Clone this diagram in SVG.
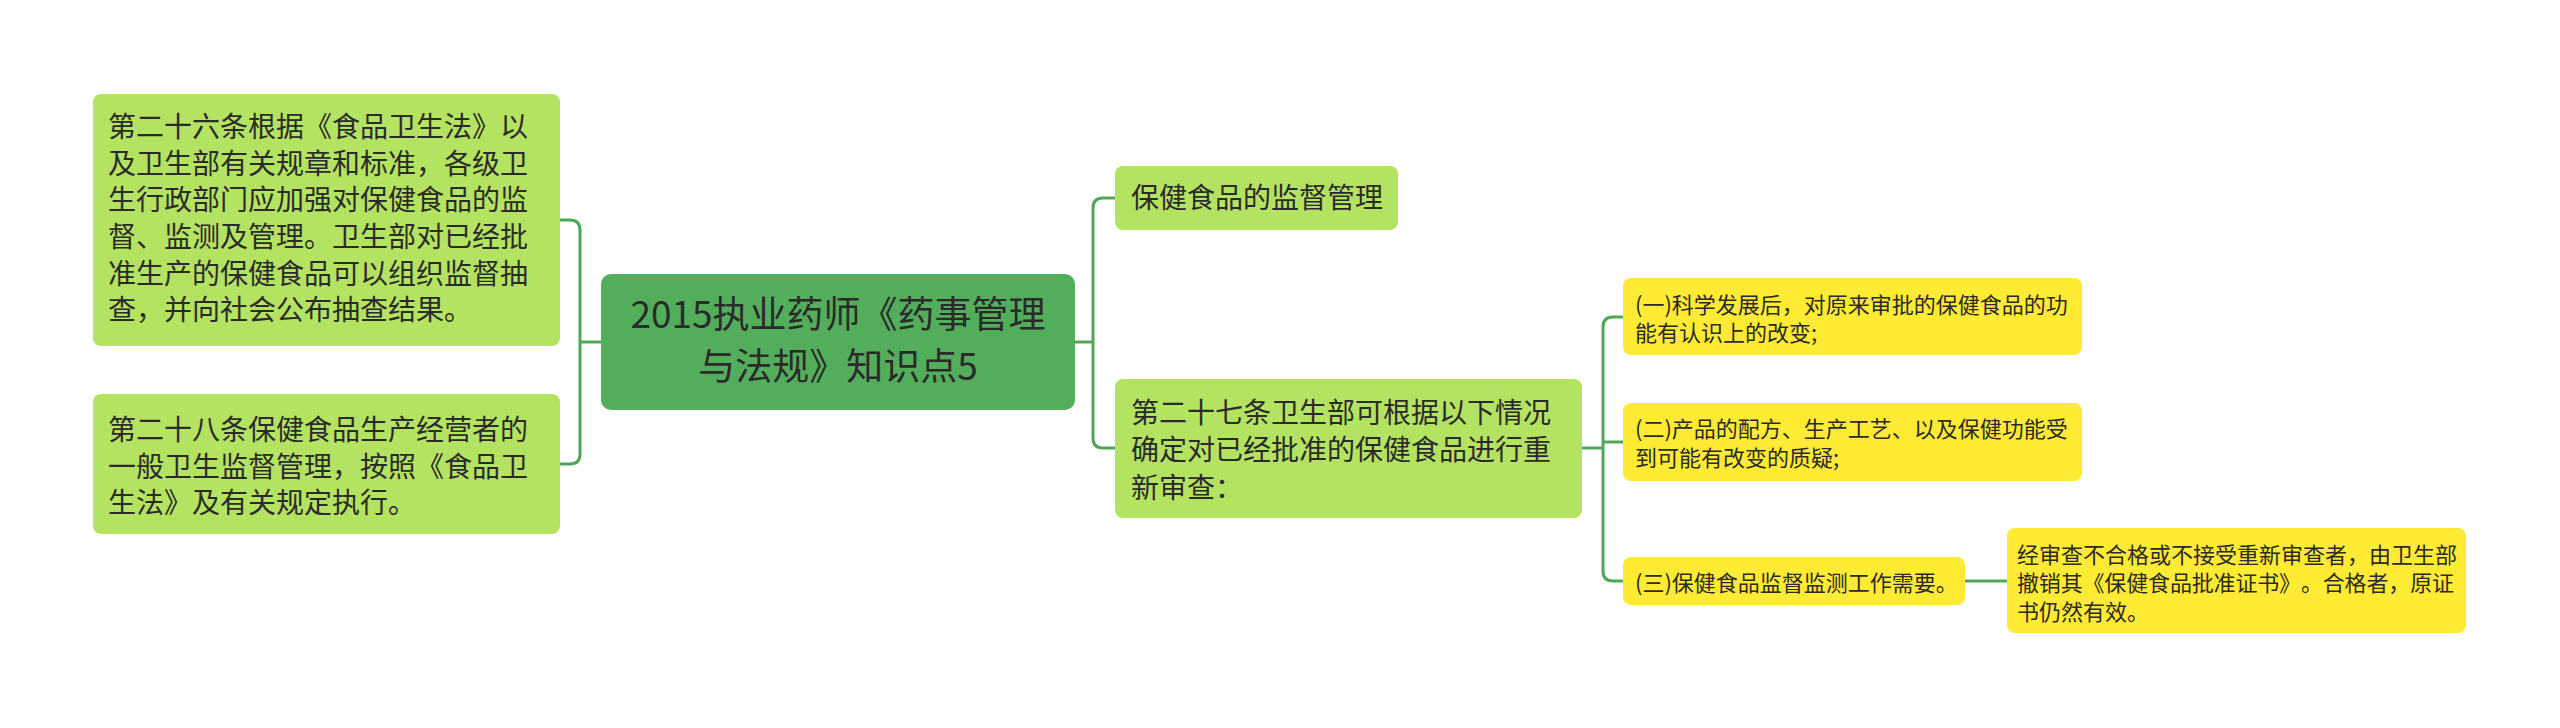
<svg xmlns="http://www.w3.org/2000/svg" width="2560" height="728" viewBox="0 0 2560 728">
<style>
text{font-family:"Microsoft YaHei","Noto Sans CJK SC","Noto Sans",sans-serif;fill:#2b2b2b;text-spacing-trim:space-all}
.root rect{fill:#52ae5b}
.l1 rect{fill:#b4e261}
.l2 rect{fill:#ffea34}
.t28{font-size:28px}
.t37{font-size:37px}
.t22{font-size:22px}
.conn path{fill:none;stroke:#4ea858;stroke-width:3}
</style>
<rect width="2560" height="728" fill="#ffffff"/>
<g class="conn" id="connectors">
<path d="M560 220 H570 Q580 220 580 230 V454 Q580 464 570 464 H560"/>
<path d="M580 342 H601"/>
<path d="M1075 342 H1093"/>
<path d="M1115 198 H1103 Q1093 198 1093 208 V438 Q1093 448 1103 448 H1115"/>
<path d="M1582 448 H1603"/>
<path d="M1623 317 H1613 Q1603 317 1603 327 V571 Q1603 581 1613 581 H1623"/>
<path d="M1603 442 H1623"/>
<path d="M1965 581 H2007"/>
</g>
<g id="root" class="root">
<rect x="601" y="274" width="474" height="136" rx="10"/>
<text class="t37" x="838" y="328" text-anchor="middle">2015执业药师《药事管理</text>
<text class="t37" x="838" y="380" text-anchor="middle">与法规》知识点5</text>
</g>
<g id="n26" class="l1">
<rect x="93" y="94" width="467" height="252" rx="8"/>
<text class="t28" x="108" y="137">第二十六条根据《食品卫生法》以</text>
<text class="t28" x="108" y="173.5">及卫生部有关规章和标准，各级卫</text>
<text class="t28" x="108" y="210">生行政部门应加强对保健食品的监</text>
<text class="t28" x="108" y="247">督、监测及管理。卫生部对已经批</text>
<text class="t28" x="108" y="283.5">准生产的保健食品可以组织监督抽</text>
<text class="t28" x="108" y="320">查，并向社会公布抽查结果。</text>
</g>
<g id="n28" class="l1">
<rect x="93" y="394" width="467" height="140" rx="8"/>
<text class="t28" x="108" y="440">第二十八条保健食品生产经营者的</text>
<text class="t28" x="108" y="477">一般卫生监督管理，按照《食品卫</text>
<text class="t28" x="108" y="513">生法》及有关规定执行。</text>
</g>
<g id="supervise" class="l1">
<rect x="1115" y="166" width="283" height="64" rx="8"/>
<text class="t28" x="1131" y="208">保健食品的监督管理</text>
</g>
<g id="n27" class="l1">
<rect x="1115" y="379" width="467" height="139" rx="8"/>
<text class="t28" x="1131" y="423">第二十七条卫生部可根据以下情况</text>
<text class="t28" x="1131" y="460">确定对已经批准的保健食品进行重</text>
<text class="t28" x="1131" y="498">新审查：</text>
</g>
<g id="c1" class="l2">
<rect x="1623" y="278" width="459" height="77" rx="8"/>
<text class="t22" x="1635" y="313">(一)科学发展后，对原来审批的保健食品的功</text>
<text class="t22" x="1635" y="341">能有认识上的改变;</text>
</g>
<g id="c2" class="l2">
<rect x="1623" y="403" width="459" height="78" rx="8"/>
<text class="t22" x="1635" y="437">(二)产品的配方、生产工艺、以及保健功能受</text>
<text class="t22" x="1635" y="466">到可能有改变的质疑;</text>
</g>
<g id="c3" class="l2">
<rect x="1623" y="557" width="342" height="48" rx="8"/>
<text class="t22" x="1635" y="591">(三)保健食品监督监测工作需要。</text>
</g>
<g id="result" class="l2">
<rect x="2007" y="528" width="459" height="105" rx="8"/>
<text class="t22" x="2017" y="563">经审查不合格或不接受重新审查者，由卫生部</text>
<text class="t22" x="2017" y="591" textLength="437" lengthAdjust="spacing">撤销其《保健食品批准证书》。合格者，原证</text>
<text class="t22" x="2017" y="620">书仍然有效。</text>
</g>
</svg>
